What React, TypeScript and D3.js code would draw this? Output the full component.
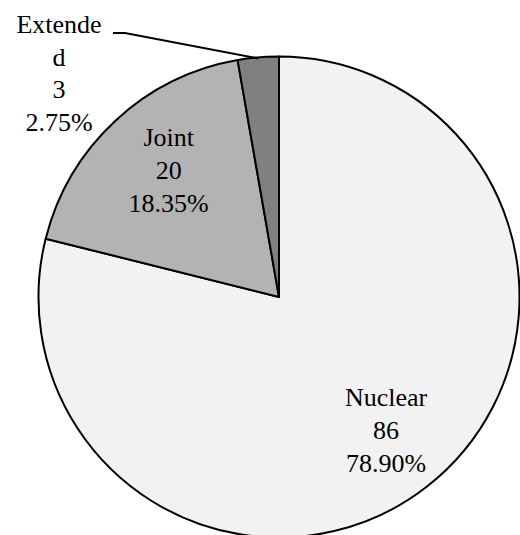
import React from "react";
import * as d3 from "d3";

const categories = ["Nuclear", "Joint", "Extended"];
const values = [86, 20, 3];
const labelNames = [["Nuclear"], ["Joint"], ["Extende", "d"]];
const colors = ["#f2f2f2", "#b3b3b3", "#808080"];

const W = 520;
const H = 535;
const cx = 279;
const cy = 297;
const R = 240.5;
const FONT = "'Liberation Serif', 'Times New Roman', serif";
const FS = 26;
const LH = 33;

export default function App() {
  const total = d3.sum(values);
  const pie = d3.pie<number>().sort(null).value((d) => d);
  const arcs = pie(values);
  const arc = d3.arc<d3.PieArcDatum<number>>().innerRadius(0).outerRadius(R);
  const labelArc = d3.arc<d3.PieArcDatum<number>>().innerRadius(R * 0.71).outerRadius(R * 0.71);

  const lines = (i: number) => [
    ...labelNames[i],
    String(values[i]),
    d3.format(".2%")(values[i] / total),
  ];

  const ext = arcs[2];
  const extMid = (ext.startAngle + ext.endAngle) / 2;
  const edge: [number, number] = [Math.sin(extMid) * R, -Math.cos(extMid) * R + 1];
  const extLines = lines(2);
  const extX = 59 - cx;
  const extY0 = 33 - cy;

  return (
    <svg width={W} height={H} style={{ position: "absolute", left: 0, top: 0 }}>
      <g transform={`translate(${cx},${cy})`}>
        {arcs.map((a, i) => (
          <path key={categories[i]} d={arc(a) || ""} fill={colors[i]} stroke="#000" strokeWidth={2} strokeLinejoin="round" />
        ))}
        {arcs.slice(0, 2).map((a, i) => {
          const [x, y] = labelArc.centroid(a);
          const ls = lines(i);
          const ox = i === 1 ? 6 : 2;
          return (
            <text key={"l" + i} x={x + ox} y={y} textAnchor="middle" fontFamily={FONT} fontSize={FS} fill="#000">
              {ls.map((t, k) => (
                <tspan key={k} x={x + ox} y={y + (k - (ls.length - 1) / 2) * LH + 7}>
                  {t}
                </tspan>
              ))}
            </text>
          );
        })}
        <polyline
          points={`${extX + 54},${extY0} ${extX + 66},${extY0} ${edge[0]},${edge[1]}`}
          fill="none"
          stroke="#000"
          strokeWidth={2}
        />
        <text textAnchor="middle" fontFamily={FONT} fontSize={FS} fill="#000">
          {extLines.map((t, k) => (
            <tspan key={k} x={extX} y={extY0 + k * 32.5}>
              {t}
            </tspan>
          ))}
        </text>
      </g>
    </svg>
  );
}
